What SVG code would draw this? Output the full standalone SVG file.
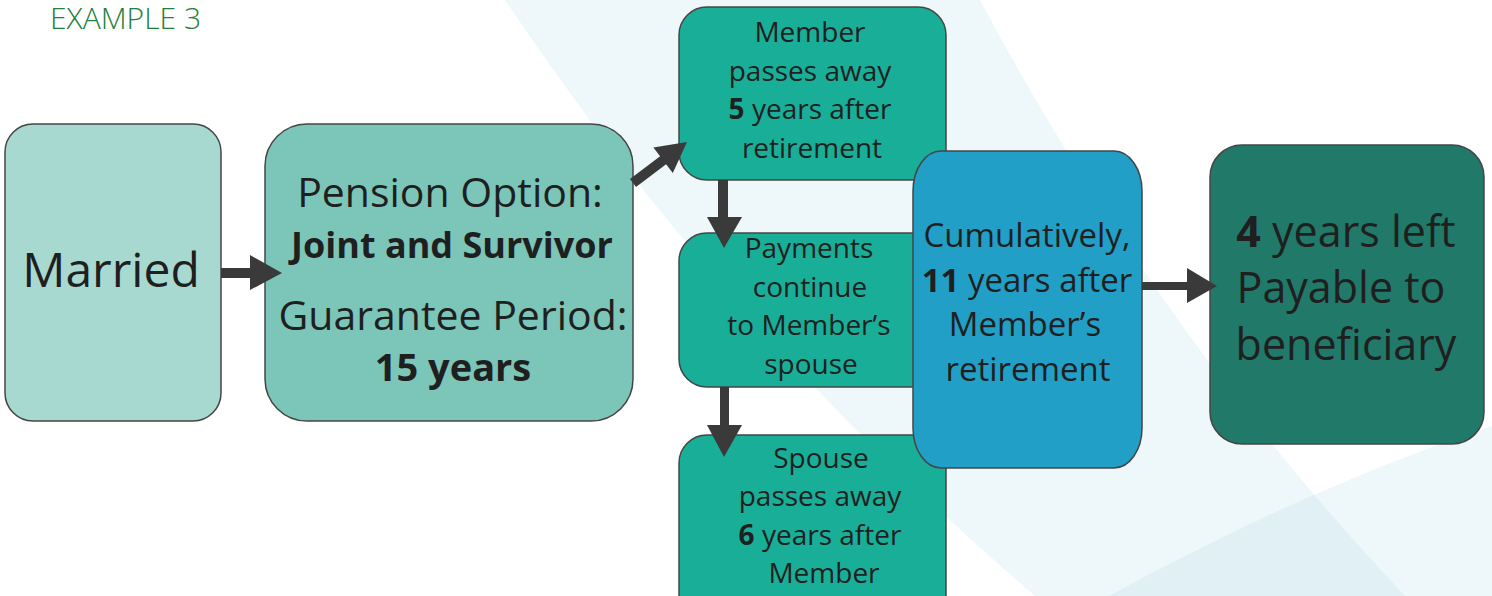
<svg xmlns="http://www.w3.org/2000/svg" width="1492" height="596" viewBox="0 0 1492 596">
<style>
.bx{stroke:#454545;stroke-width:1.5}
.t{font-family:"Open Sans","Noto Sans","Liberation Sans",sans-serif;fill:#1f1f1f;text-anchor:middle}
.b{font-weight:bold}
.arr{fill:#3a3a3a}
.bg{fill:#a1d3de;fill-opacity:0.18}
</style>
<rect width="1492" height="596" fill="#ffffff"/>
<g id="background">
<path class="bg" d="M505,0 C600,140 760,360 1035,596 L1405,596 C1200,380 1060,150 980,0 Z"/>
<path class="bg" d="M1109,596 C1230,530 1360,470 1492,426 L1492,596 Z"/>
</g>
<text x="50" y="29" class="t" style="text-anchor:start;fill:#23803c;font-weight:300" font-size="30">EXAMPLE 3</text>
<g id="married">
<rect class="bx" x="5" y="124" width="216" height="297" rx="28" fill="#a7d9d0"/>
<text class="t" x="111" y="287" font-size="48">Married</text>
</g>
<g id="pension">
<rect class="bx" x="265" y="124" width="368" height="297" rx="42" fill="#7bc6b8"/>
<text class="t" x="450" y="207" font-size="41">Pension Option:</text>
<text class="t b" x="452" y="258" font-size="36">Joint and Survivor</text>
<text class="t" x="453" y="330" font-size="41">Guarantee Period:</text>
<text class="t b" x="453" y="381" font-size="38">15 years</text>
</g>
<g id="member">
<rect class="bx" x="679" y="7" width="267" height="173" rx="28" fill="#19ae98"/>
<text class="t" x="810" y="42" font-size="28">Member</text>
<text class="t" x="810" y="81" font-size="28">passes away</text>
<text class="t" x="810" y="119" font-size="28"><tspan class="b">5</tspan> years after</text>
<text class="t" x="812" y="158" font-size="28">retirement</text>
</g>
<g id="payments">
<rect class="bx" x="679" y="233" width="267" height="154" rx="28" fill="#19ae98"/>
<text class="t" x="809" y="258" font-size="28">Payments</text>
<text class="t" x="810" y="297" font-size="28">continue</text>
<text class="t" x="809" y="335" font-size="28">to Member’s</text>
<text class="t" x="811" y="374" font-size="28">spouse</text>
</g>
<g id="spouse">
<rect class="bx" x="679" y="435" width="267" height="190" rx="28" fill="#19ae98"/>
<text class="t" x="821" y="468" font-size="28">Spouse</text>
<text class="t" x="820" y="506" font-size="28">passes away</text>
<text class="t" x="820" y="545" font-size="28"><tspan class="b">6</tspan> years after</text>
<text class="t" x="824" y="583" font-size="28">Member</text>
</g>
<g id="cumulative">
<rect class="bx" x="913" y="151" width="229" height="317" rx="28" ry="40" fill="#219fc6"/>
<text class="t" x="1027" y="247" font-size="33">Cumulatively,</text>
<text class="t" x="1027" y="292" font-size="33"><tspan class="b">11</tspan> years after</text>
<text class="t" x="1025" y="336" font-size="33">Member’s</text>
<text class="t" x="1028" y="381" font-size="33">retirement</text>
</g>
<g id="beneficiary">
<rect class="bx" x="1210" y="145" width="274" height="299" rx="32" fill="#21796a"/>
<text class="t" x="1346" y="247" font-size="43"><tspan class="b">4</tspan> years left</text>
<text class="t" x="1341" y="303" font-size="43">Payable to</text>
<text class="t" x="1346" y="360" font-size="43">beneficiary</text>
</g>
<g id="connectors">
<polygon class="arr" points="221,268 250,268 250,255 282,273 250,290 250,278 221,278"/>
<polygon class="arr" points="630,179 660.1,156.2 653.4,147.5 687,142 672.8,172.9 666.1,164.2 636,187"/>
<polygon class="arr" points="718,180 728,180 728,217 742,217 724,248 707,217 718,217"/>
<polygon class="arr" points="720,387 729,387 729,425 742,425 724,457 707,425 720,425"/>
<polygon class="arr" points="1142,282 1187,282 1187,268 1217,286 1187,303 1187,290 1142,290"/>
</g>
</svg>
